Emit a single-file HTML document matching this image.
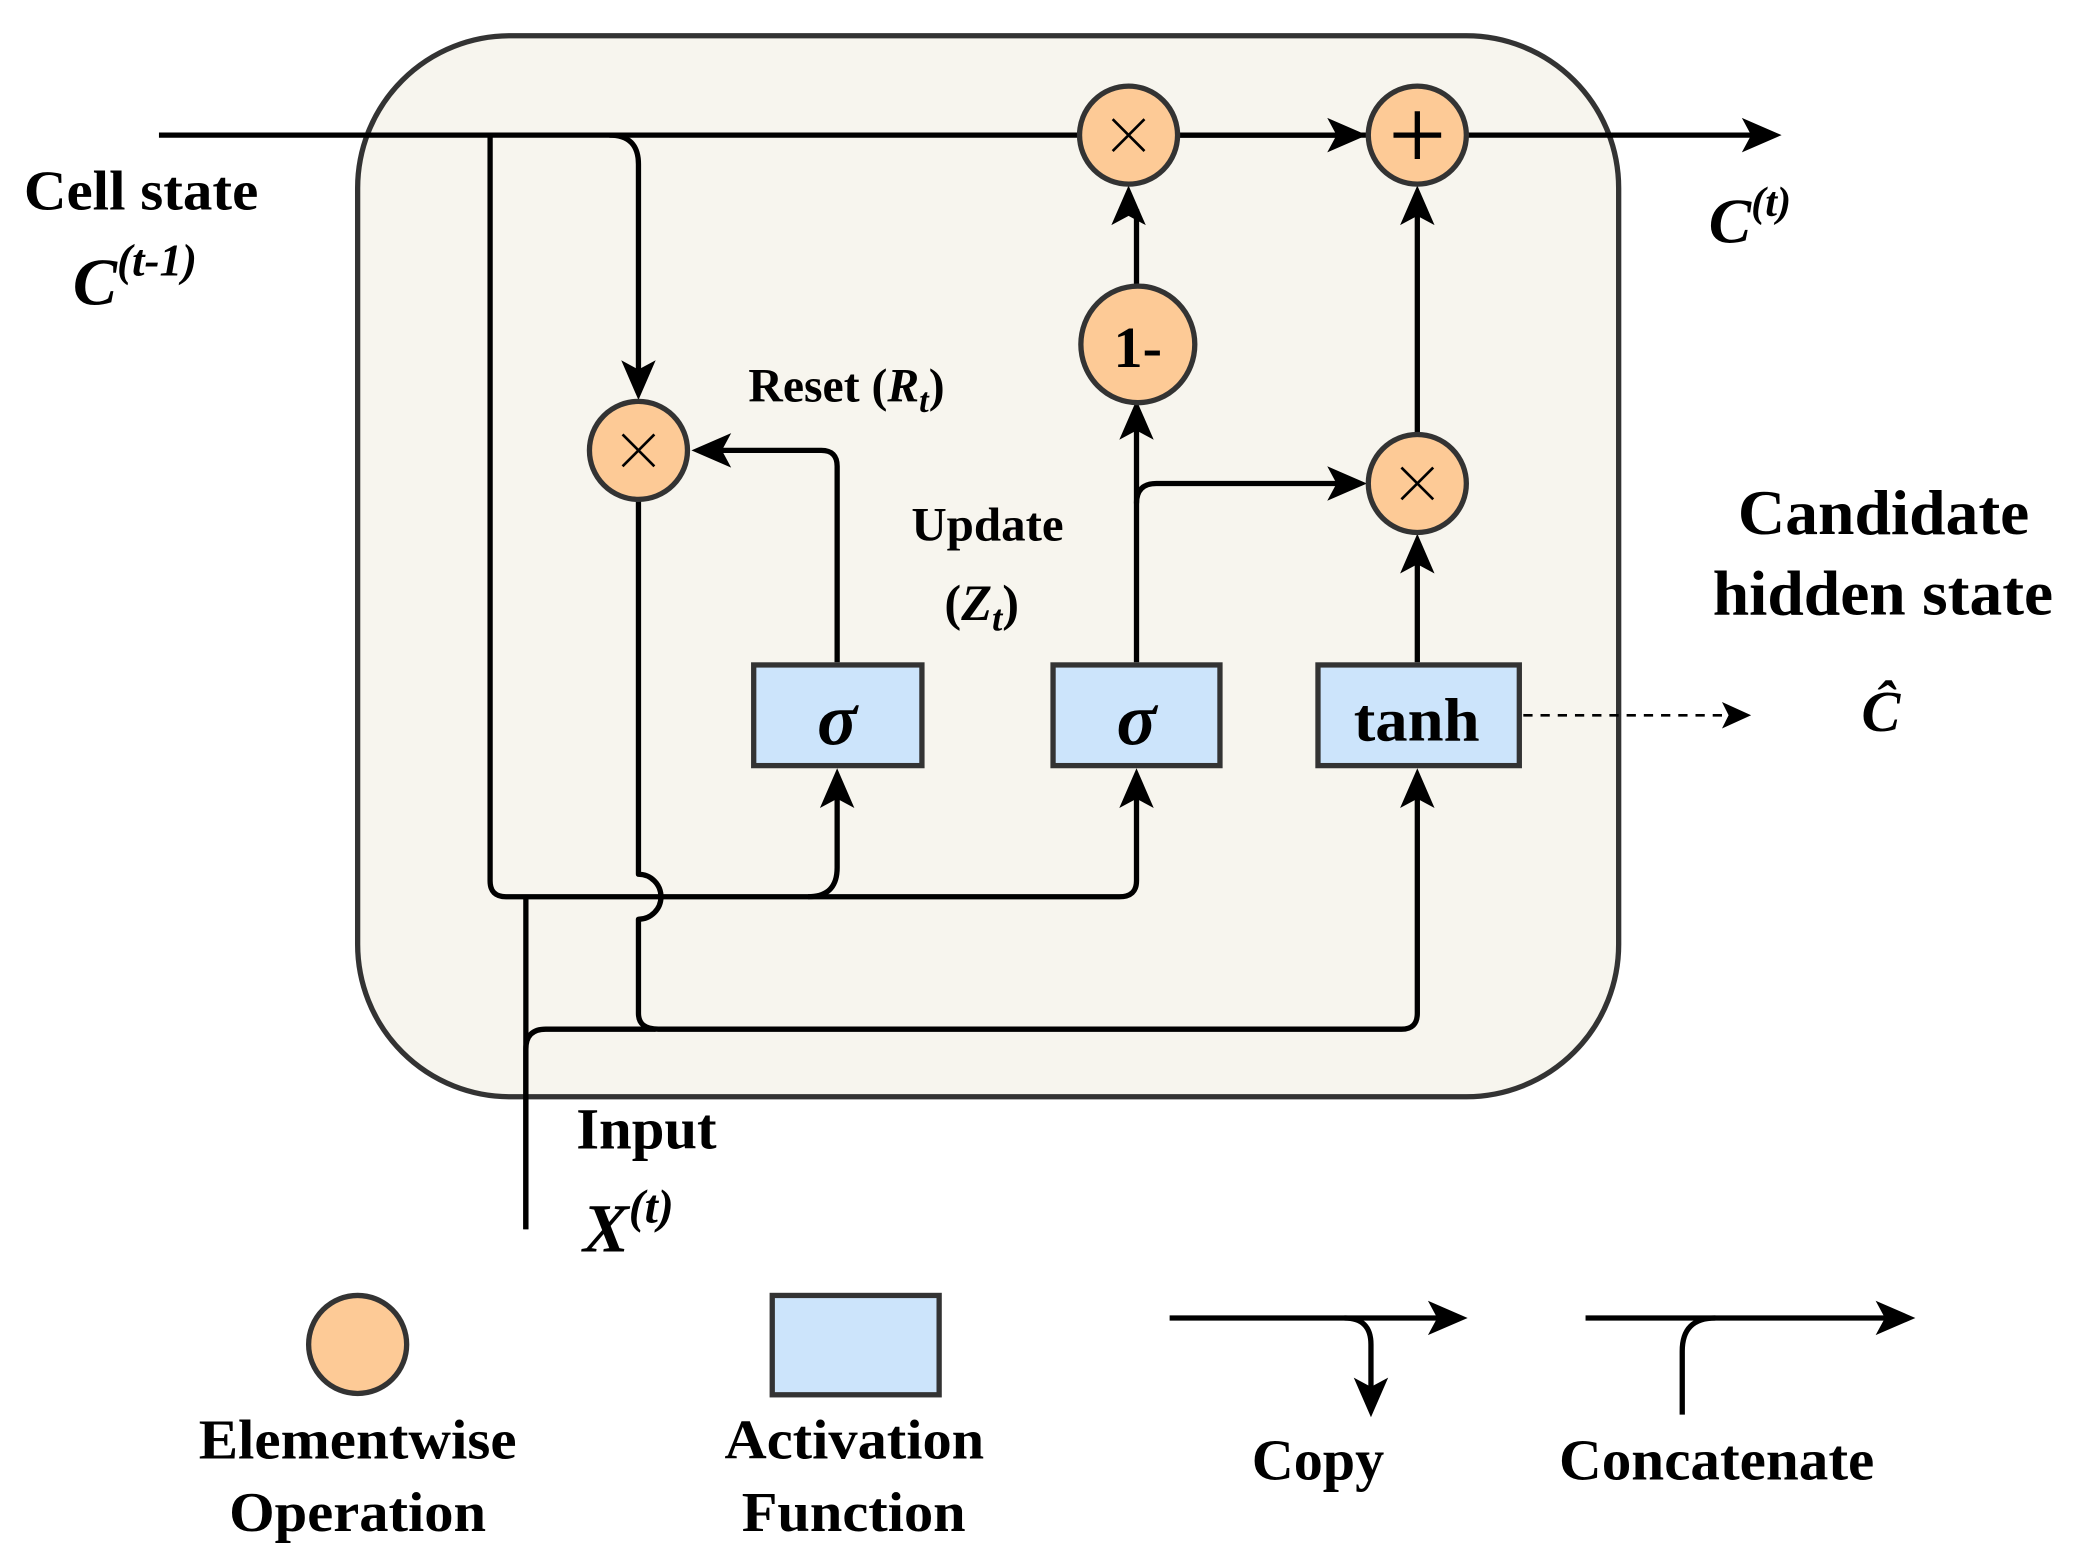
<!DOCTYPE html>
<html><head><meta charset="utf-8"><style>
html,body{margin:0;padding:0;background:#fff;}
svg{display:block;}
text{font-family:"Liberation Serif",serif;font-weight:bold;fill:#000;}
</style></head><body>
<svg width="2073" height="1565" viewBox="0 0 1565 1181.5" preserveAspectRatio="none" xmlns="http://www.w3.org/2000/svg">
<rect x="270" y="27" width="952" height="801" rx="115" ry="115" fill="#f7f5ee" stroke="#333" stroke-width="4"/>
<g fill="none" stroke="#000" stroke-width="4" stroke-linejoin="round">
<path d="M120 102 H1330"/>
<path d="M370 102 V665 Q370 677 382 677 H845 Q858 677 858 665 V600"/>
<path d="M610 677 Q632 677 632 655 V600"/>
<path d="M460 102 Q482 102 482 124 V285"/>
<path d="M632 500 V352 Q632 340 620 340 H540"/>
<path d="M482 378 V660 A17 17 0 0 1 482 694 V765 Q482 777 497 777 H1058 Q1070 777 1070 765 V600"/>
<path d="M397 677 V928"/>
<path d="M397 928 V792 Q397 777 412 777 H495"/>
<path d="M858 500 V320"/>
<path d="M858 380 Q858 365 873 365 H1015"/>
<path d="M858 218 V158"/>
<path d="M1070 500 V420"/>
<path d="M1070 327 V158"/>
<path d="M890 102 H1015"/>
</g>
<path d="M1150 540 H1305" stroke="#000" stroke-width="2" stroke-dasharray="7,6" fill="none"/>
<g fill="#000">
<polygon points="1345,102 1315,89 1322,102 1315,115"/>
<polygon points="1032,102 1002,89 1009,102 1002,115"/>
<polygon points="1032,365 1002,352 1009,365 1002,378"/>
<polygon points="522,340 552,327 545,340 552,353"/>
<polygon points="482,302 469,272 482,279 495,272"/>
<polygon points="632,580 619,610 632,603 645,610"/>
<polygon points="858,580 845,610 858,603 871,610"/>
<polygon points="1070,580 1057,610 1070,603 1083,610"/>
<polygon points="858,302 845,332 858,325 871,332"/>
<polygon points="852,140 839,170 852,163 865,170"/>
<polygon points="1070,140 1057,170 1070,163 1083,170"/>
<polygon points="1070,403 1057,433 1070,426 1083,433"/>
<polygon points="1322,540 1300,530 1305,540 1300,550"/>
</g>
<g fill="#fdca96" stroke="#333" stroke-width="4">
<circle cx="852" cy="102" r="37"/>
<circle cx="1070" cy="102" r="37"/>
<circle cx="482" cy="340" r="37"/>
<circle cx="1070" cy="365" r="37"/>
<ellipse cx="859" cy="260" rx="43" ry="44"/>
<ellipse cx="270" cy="1015" rx="37" ry="37"/>
</g>
<g stroke="#000" stroke-width="2">
<path d="M840 90 L864 114 M864 90 L840 114"/>
<path d="M470 328 L494 352 M494 328 L470 352"/>
<path d="M1058 353 L1082 377 M1082 353 L1058 377"/>
</g>
<path d="M1070 84 V120 M1052 102 H1088" stroke="#000" stroke-width="4"/>
<text x="859" y="277" font-size="44" text-anchor="middle">1-</text>
<g fill="#cce4fb" stroke="#333" stroke-width="4">
<rect x="569" y="502" width="127" height="76"/>
<rect x="795" y="502" width="126" height="76"/>
<rect x="995" y="502" width="152" height="76"/>
<rect x="583" y="978" width="126" height="75"/>
</g>
<text x="632" y="562" font-size="56" text-anchor="middle" font-style="italic">σ</text>
<text x="858" y="562" font-size="56" text-anchor="middle" font-style="italic">σ</text>
<text x="1022" y="559" font-size="46" textLength="95" lengthAdjust="spacingAndGlyphs">tanh</text>
<text x="18" y="158" font-size="42" textLength="177" lengthAdjust="spacingAndGlyphs">Cell state</text>
<text x="55" y="230" font-size="50" font-style="italic">C<tspan font-size="34" dy="-22">(t-1)</tspan></text>
<text x="1290" y="183" font-size="48" font-style="italic">C<tspan font-size="32" dy="-20">(t)</tspan></text>
<text x="565" y="303" font-size="36">Reset (<tspan font-style="italic">R<tspan font-size="26" dy="8">t</tspan></tspan><tspan dy="-8">)</tspan></text>
<text x="688" y="408" font-size="36" textLength="115" lengthAdjust="spacingAndGlyphs">Update</text>
<text x="713" y="468" font-size="38">(<tspan font-style="italic">Z<tspan font-size="28" dy="8">t</tspan></tspan><tspan dy="-8">)</tspan></text>
<text x="1312" y="403" font-size="48" textLength="220" lengthAdjust="spacingAndGlyphs">Candidate</text>
<text x="1293" y="464" font-size="48" textLength="257" lengthAdjust="spacingAndGlyphs">hidden state</text>
<text x="1420" y="552" font-size="44" text-anchor="middle" font-style="italic" font-weight="normal">Ĉ</text>
<text x="435" y="867" font-size="44" textLength="106" lengthAdjust="spacingAndGlyphs">Input</text>
<text x="440" y="945" font-size="52" font-style="italic">X<tspan font-size="36" dy="-22">(t)</tspan></text>
<text x="150" y="1101" font-size="42" textLength="240" lengthAdjust="spacingAndGlyphs">Elementwise</text>
<text x="173" y="1156" font-size="42" textLength="194" lengthAdjust="spacingAndGlyphs">Operation</text>
<text x="547" y="1101" font-size="42" textLength="196" lengthAdjust="spacingAndGlyphs">Activation</text>
<text x="560" y="1156" font-size="42" textLength="169" lengthAdjust="spacingAndGlyphs">Function</text>
<text x="945" y="1117" font-size="44" textLength="100" lengthAdjust="spacingAndGlyphs">Copy</text>
<text x="1177" y="1117" font-size="44" textLength="238" lengthAdjust="spacingAndGlyphs">Concatenate</text>
<g fill="none" stroke="#000" stroke-width="4">
<path d="M883 995 H1090"/>
<path d="M1015 995 Q1035 995 1035 1015 V1050"/>
<path d="M1197 995 H1430"/>
<path d="M1270 1068 V1020 Q1270 995 1295 995"/>
</g>
<g fill="#000">
<polygon points="1108,995 1078,982 1085,995 1078,1008"/>
<polygon points="1446,995 1416,982 1423,995 1416,1008"/>
<polygon points="1035,1070 1022,1040 1035,1047 1048,1040"/>
</g>
</svg>
</body></html>
